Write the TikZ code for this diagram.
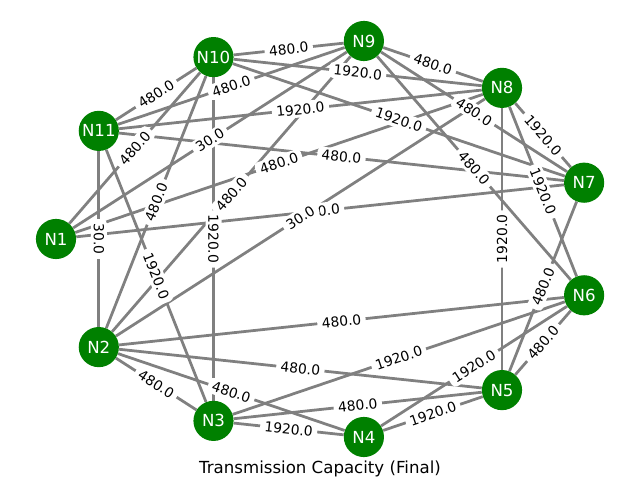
\documentclass[tikz,border=0pt]{standalone}
\usepackage{fontspec}
\setmainfont{DejaVu Sans}
\usetikzlibrary{positioning}
\definecolor{nodegreen}{HTML}{008000}
\pgfdeclarelayer{edges}
\pgfsetlayers{edges,main}

\begin{document}
\begin{tikzpicture}[x=0.254mm,y=0.254mm,
    station/.style={circle,fill=nodegreen,text=white,minimum size=10.2mm,inner sep=0pt,font=\fontsize{12}{14}\selectfont},
    link/.style={gray,line width=2pt},
    weight/.style={sloped,fill=white,rounded corners=3pt,inner xsep=3.2pt,inner ysep=2pt,font=\fontsize{10}{12}\selectfont}]

    \useasboundingbox (0,0) rectangle (640,480);

    % stations on the ring
    \node[station] (N1) at (56,241) {N1};
    \node[station] (N2) at (98.8,132.9) {N2};
    \node[station] (N3) at (213.5,59.1) {N3};
    \node[station] (N4) at (363.9,43) {N4};
    \node[station] (N5) at (502,89.9) {N5};
    \node[station] (N6) at (584.1,184.7) {N6};
    \node[station] (N7) at (584.1,297.3) {N7};
    \node[station] (N8) at (502,392.1) {N8};
    \node[station] (N9) at (363.9,439) {N9};
    \node[station] (N10) at (213.5,422.9) {N10};
    \node[station] (N11) at (98.8,349.1) {N11};

    % links with capacities
    \foreach \a/\b/\w in {N10/N9/480.0, N11/N10/480.0, N9/N8/480.0, N8/N7/1920.0,
        N11/N2/30.0, N11/N9/480.0, N11/N8/1920.0, N11/N7/480.0, N11/N3/1920.0,
        N1/N10/480.0, N1/N9/30.0, N1/N7/480.0, N1/N8/480.0,
        N2/N10/480.0, N2/N9/480.0, N2/N8/30.0, N2/N6/480.0, N2/N5/480.0, N2/N3/480.0, N2/N4/480.0,
        N10/N3/1920.0, N10/N8/1920.0, N10/N7/1920.0, N9/N7/480.0, N9/N6/480.0,
        N5/N8/1920.0, N8/N6/1920.0, N7/N5/480.0, N6/N5/480.0, N6/N4/1920.0, N6/N3/1920.0,
        N5/N3/480.0, N5/N4/1920.0, N3/N4/1920.0}{
        \begin{pgfonlayer}{edges}
            \draw[link] (\a) -- (\b);
        \end{pgfonlayer}
        \path (\a) -- node[weight] {\w} (\b);
    }

    \node (title) at (320,11) {\fontsize{12}{14}\selectfont Transmission Capacity (Final)};

\end{tikzpicture}
\end{document}
